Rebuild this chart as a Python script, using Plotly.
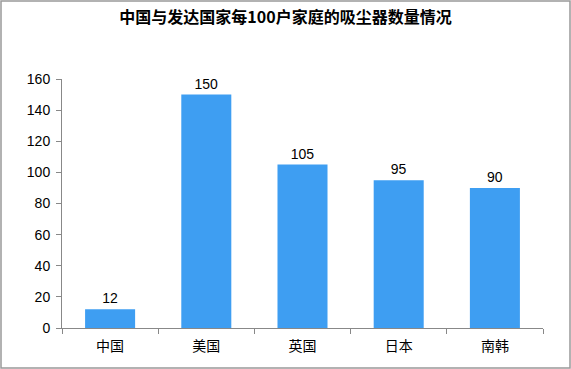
import plotly.graph_objects as go

categories = ["中国", "美国", "英国", "日本", "南韩"]
values = [12, 150, 105, 95, 90]
y_ticks = [0, 20, 40, 60, 80, 100, 120, 140, 160]

fig = go.Figure(go.Bar(
    x=categories, y=values,
    marker=dict(color="#3e9ef2", line=dict(width=0)),
    width=0.52,
    text=[str(v) for v in values], textposition="outside",
    textfont=dict(family="Liberation Sans, Arial, sans-serif", size=14, color="#000"),
    cliponaxis=False,
))

fig.update_layout(
    width=571, height=369,
    margin=dict(l=62, r=28, t=79, b=41),
    paper_bgcolor="white", plot_bgcolor="white",
    title=dict(text="<b>中国与发达国家每100户家庭的吸尘器数量情况</b>", x=0.5, xanchor="center",
               y=0.952, yanchor="middle",
               font=dict(family="Noto Sans CJK SC", size=16, color="#000")),
    showlegend=False,
    xaxis=dict(showline=True, linecolor="#888", linewidth=1, ticks="outside", ticklen=5,
               tickcolor="#888", tickson="boundaries", showgrid=False, ticklabelstandoff=5,
               tickfont=dict(family="Noto Sans CJK SC", size=14, color="#000")),
    yaxis=dict(range=[0, 160], tickvals=y_ticks, showline=True, linecolor="#888", linewidth=1,
               ticks="outside", ticklen=5, tickcolor="#888", showgrid=False, zeroline=False,
               ticklabelstandoff=3,
               tickfont=dict(family="Liberation Sans, Arial, sans-serif", size=14, color="#000")),
)
fig.add_shape(type="rect", xref="paper", yref="paper", x0=-61/481, x1=1+27/481,
              y0=-40/249, y1=1+78/249, line=dict(color="#999", width=1.5), layer="below")

fig.write_html("out.html", config={"displayModeBar": False},
               post_script="document.body.style.margin='0';")
